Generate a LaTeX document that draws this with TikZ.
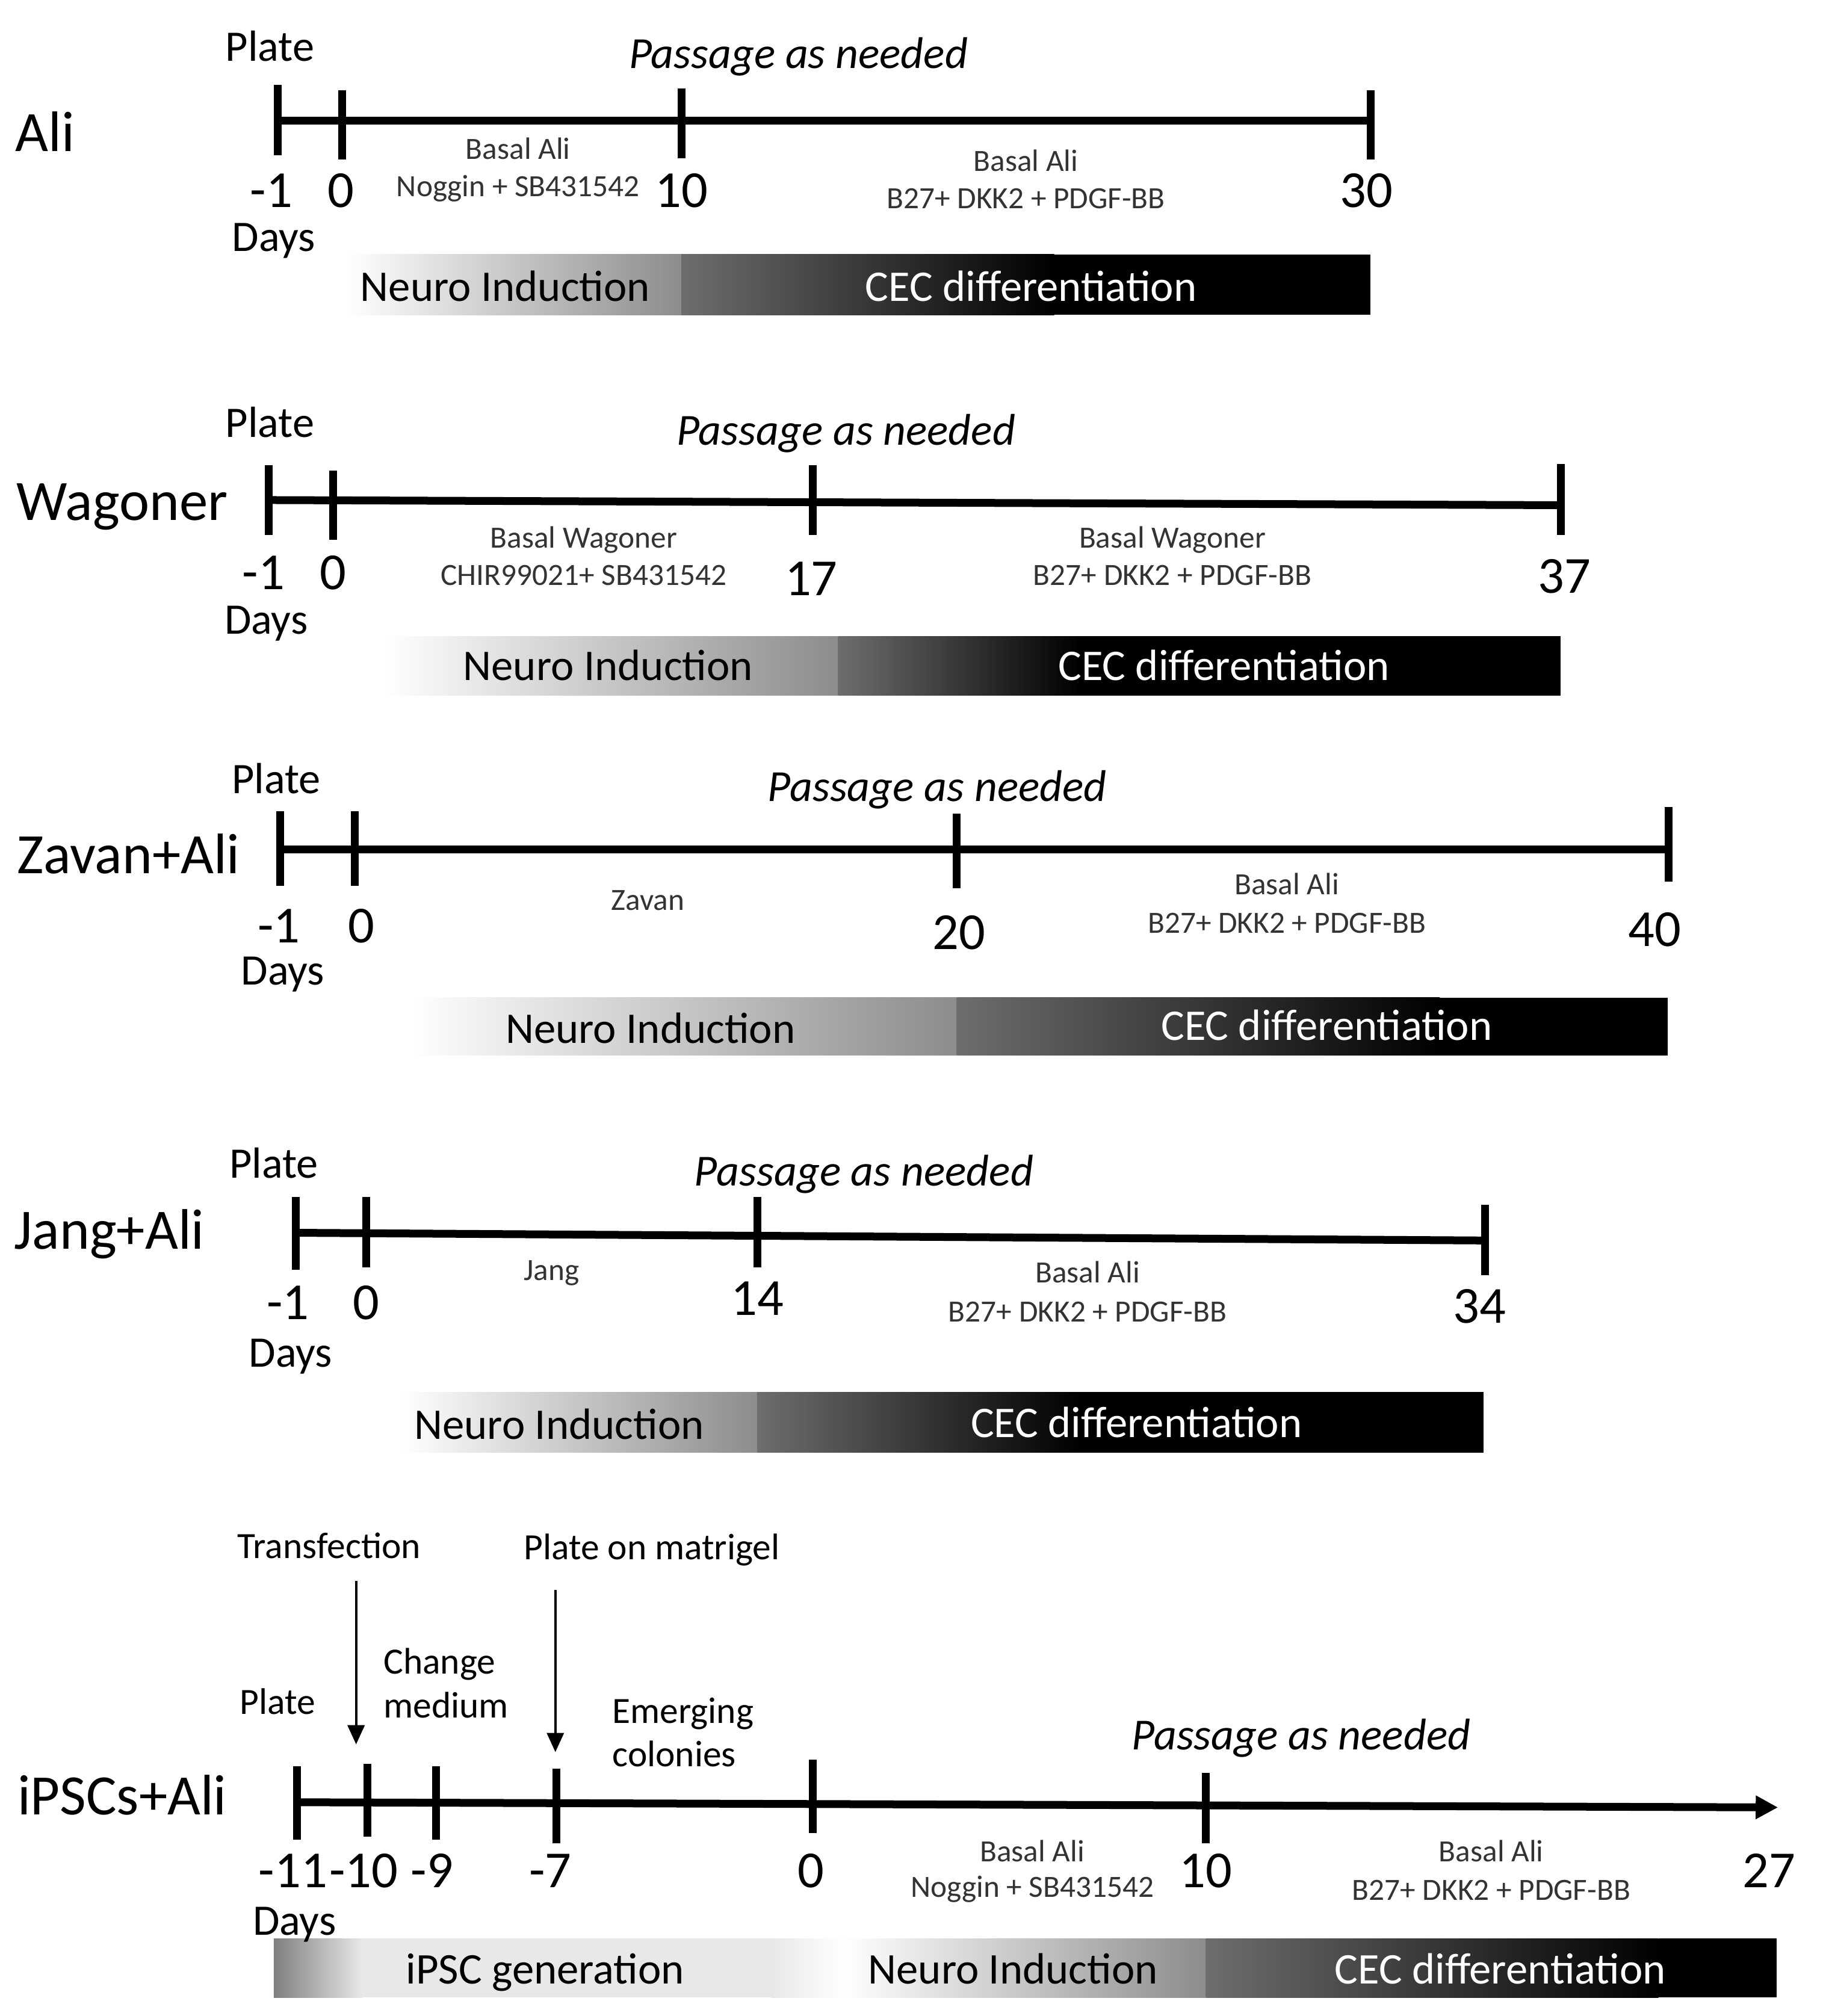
\documentclass[tikz,border=0pt]{standalone}
\usepackage{fontspec}
\setmainfont{Carlito}
\usetikzlibrary{arrows.meta}
\begin{document}
\begin{tikzpicture}[x=0.02136cm,y=-0.02136cm,
  tl/.style={line width=3.7pt},
  tk/.style={line width=3.7pt},
  txt/.style={anchor=mid,inner sep=0pt,yshift=-4.5pt},
  lbl/.style={txt,yshift=-2pt,font=\fontsize{27}{32}\selectfont},
  plt/.style={txt,font=\fontsize{20.6}{24}\selectfont},
  ann/.style={txt,font=\fontsize{17.5}{21}\selectfont},
  num/.style={txt,font=\fontsize{24.6}{29}\selectfont},
  days/.style={txt,font=\fontsize{20.6}{24}\selectfont},
  pas/.style={txt,font=\itshape\fontsize{21}{25}\selectfont},
  sml/.style={txt,yshift=2pt,font=\fontsize{14.6}{17}\selectfont,text=black!80},
  bartxt/.style={txt,font=\fontsize{20.7}{24}\selectfont},
  bartxtw/.style={bartxt,text=white},
  arr/.style={line width=1.2pt,-{Triangle[length=0.32cm,width=0.28cm]}},
  endarr/.style={tl,-{Triangle[length=0.37cm,width=0.37cm]}}
]
\useasboundingbox (0,0) rectangle (1420,1568.3);

% ================= Panel 1: Ali =================
\shade[left color=white,right color=black!45] (270,198) rectangle (530,245);
\shade[left color=black!57,right color=black] (530,198) rectangle (820,245);
\fill[black] (820,198) rectangle (1066,245);
\draw[tl] (216,94) -- (1066,94);
\draw[tk] (216,66) -- (216,121);
\draw[tk] (266,70) -- (266,124);
\draw[tk] (530,69) -- (530,123);
\draw[tk] (1066,70) -- (1066,124);
\node[lbl] (a-name) at (35,103) {Ali};
\node[plt] (a-plate) at (210,36) {Plate};
\node[pas] (a-pas) at (621,42) {Passage as needed};
\node[num] (a-m1) at (211,150) {-1};
\node[num] (a-0) at (265,150) {0};
\node[num] (a-10) at (530,150) {10};
\node[num] (a-30) at (1063,150) {30};
\node[days] (a-days) at (213,184) {Days};
\node[sml] (a-m1a) at (403,116) {Basal Ali};
\node[sml] (a-m1b) at (403,145) {Noggin + SB431542};
\node[sml] (a-m2a) at (798,125) {Basal Ali};
\node[sml] (a-m2b) at (798,154) {B27+ DKK2 + PDGF-BB};
\node[bartxt] (a-ni) at (393,223) {Neuro Induction};
\node[bartxtw] (a-cec) at (802,223) {CEC differentiation};

% ================= Panel 2: Wagoner =================
\shade[left color=white,right color=black!45] (300,495) rectangle (652,541);
\shade[left color=black!57,right color=black] (652,495) rectangle (840,541);
\fill[black] (840,495) rectangle (1214,541);
\draw[tl] (209,389) -- (1214,393);
\draw[tk] (209,362) -- (209,416);
\draw[tk] (259,366) -- (259,420);
\draw[tk] (632,362) -- (632,416);
\draw[tk] (1214,361) -- (1214,416);
\node[lbl] (w-name) at (95,390) {Wagoner};
\node[plt] (w-plate) at (210,329) {Plate};
\node[pas] (w-pas) at (658,335) {Passage as needed};
\node[num] (w-m1) at (205,447) {-1};
\node[num] (w-0) at (259,447) {0};
\node[num] (w-17) at (631,452) {17};
\node[num] (w-37) at (1217,450) {37};
\node[days] (w-days) at (207,482) {Days};
\node[sml] (w-m1a) at (454,418) {Basal Wagoner};
\node[sml] (w-m1b) at (454,447) {CHIR99021+ SB431542};
\node[sml] (w-m2a) at (912,418) {Basal Wagoner};
\node[sml] (w-m2b) at (912,447) {B27+ DKK2 + PDGF-BB};
\node[bartxt] (w-ni) at (473,518) {Neuro Induction};
\node[bartxtw] (w-cec) at (952,518) {CEC differentiation};

% ================= Panel 3: Zavan+Ali =================
\shade[left color=white,right color=black!45] (320,776) rectangle (744,821);
\shade[left color=black!57,right color=black] (744,776) rectangle (1120,821);
\fill[black] (1120,776) rectangle (1297,821);
\draw[tl] (218,661) -- (1298,661);
\draw[tk] (218,631) -- (218,689);
\draw[tk] (276,631) -- (276,689);
\draw[tk] (744,633) -- (744,691);
\draw[tk] (1298,628) -- (1298,686);
\node[lbl] (z-name) at (100,665) {Zavan+Ali};
\node[plt] (z-plate) at (215,606) {Plate};
\node[pas] (z-pas) at (729,612) {Passage as needed};
\node[num] (z-m1) at (217,722) {-1};
\node[num] (z-0) at (281,722) {0};
\node[num] (z-20) at (746,727) {20};
\node[num] (z-40) at (1287,725) {40};
\node[days] (z-days) at (220,755) {Days};
\node[sml] (z-m1a) at (504,700) {Zavan};
\node[sml] (z-m2a) at (1001,688) {Basal Ali};
\node[sml] (z-m2b) at (1001,718) {B27+ DKK2 + PDGF-BB};
\node[bartxt] (z-ni) at (506,800) {Neuro Induction};
\node[bartxtw] (z-cec) at (1032,798) {CEC differentiation};

% ================= Panel 4: Jang+Ali =================
\shade[left color=white,right color=black!45] (312,1083) rectangle (589,1130);
\shade[left color=black!57,right color=black] (589,1083) rectangle (840,1130);
\fill[black] (840,1083) rectangle (1154,1130);
\draw[tl] (230,959) -- (1155,965);
\draw[tk] (230,931) -- (230,988);
\draw[tk] (285,931) -- (285,986);
\draw[tk] (589,931) -- (589,986);
\draw[tk] (1155,937) -- (1155,992);
\node[lbl] (j-name) at (85,957) {Jang+Ali};
\node[plt] (j-plate) at (213,905) {Plate};
\node[pas] (j-pas) at (672,911) {Passage as needed};
\node[num] (j-m1) at (224,1015) {-1};
\node[num] (j-0) at (285,1015) {0};
\node[num] (j-14) at (589,1012) {14};
\node[num] (j-34) at (1151,1018) {34};
\node[days] (j-days) at (226,1052) {Days};
\node[sml] (j-m1a) at (429,988) {Jang};
\node[sml] (j-m2a) at (846,990) {Basal Ali};
\node[sml] (j-m2b) at (846,1020) {B27+ DKK2 + PDGF-BB};
\node[bartxt] (j-ni) at (435,1108) {Neuro Induction};
\node[bartxtw] (j-cec) at (884,1107) {CEC differentiation};

% ================= Panel 5: iPSCs+Ali =================
\shade[left color=black!50,right color=black!9] (213,1508) rectangle (282,1554);
\fill[black!9] (282,1508) rectangle (600,1554);
\shade[left color=black!9,right color=white] (600,1508) rectangle (656,1554);
\shade[left color=white,right color=black!45] (656,1508) rectangle (938,1554);
\shade[left color=black!57,right color=black] (938,1508) rectangle (1290,1554);
\fill[black] (1290,1508) rectangle (1382,1554);
\coordinate (p-start) at (231,1402);
\coordinate (p-end) at (1383,1406);
\draw[endarr] (p-start) -- (p-end);
\draw[tk] (231,1374) -- (231,1431);
\draw[tk] (286,1372) -- (286,1429);
\draw[tk] (339,1374) -- (339,1431);
\draw[tk] (433,1376) -- (433,1434);
\draw[tk] (632,1369) -- (632,1426);
\draw[tk] (938,1379) -- (938,1434);
\node[lbl] (p-name) at (95,1397) {iPSCs+Ali};
\node[ann] (p-trans) at (256,1201) {Transfection};
\node[ann] (p-matri) at (507,1202) {Plate on matrigel};
\coordinate (t-a) at (277,1230);
\coordinate (t-b) at (277,1357);
\coordinate (m-a) at (432,1237);
\coordinate (m-b) at (432,1363);
\draw[arr] (t-a) -- (t-b);
\draw[arr] (m-a) -- (m-b);
\node[ann] (p-plate) at (216,1322) {Plate};
\node[ann,anchor=mid west] (p-ch1) at (298,1291) {Change};
\node[ann,anchor=mid west] (p-ch2) at (298,1325) {medium};
\node[ann,anchor=mid west] (p-em1) at (476,1329) {Emerging};
\node[ann,anchor=mid west] (p-em2) at (476,1363) {colonies};
\node[pas] (p-pas) at (1012,1350) {Passage as needed};
\node[num] (p-m11) at (228,1457) {-11};
\node[num] (p-m10) at (283,1457) {-10};
\node[num] (p-m9) at (336,1457) {-9};
\node[num] (p-m7) at (428,1457) {-7};
\node[num] (p-0) at (631,1457) {0};
\node[num] (p-10) at (938,1457) {10};
\node[num] (p-27) at (1376,1457) {27};
\node[days] (p-days) at (229,1494) {Days};
\node[sml] (p-m1a) at (803,1440) {Basal Ali};
\node[sml] (p-m1b) at (803,1468) {Noggin + SB431542};
\node[sml] (p-m2a) at (1160,1440) {Basal Ali};
\node[sml] (p-m2b) at (1160,1470) {B27+ DKK2 + PDGF-BB};
\node[bartxt] (p-gen) at (424,1532) {iPSC generation};
\node[bartxt] (p-ni) at (788,1532) {Neuro Induction};
\node[bartxtw] (p-cec) at (1167,1532) {CEC differentiation};
\end{tikzpicture}
\end{document}
